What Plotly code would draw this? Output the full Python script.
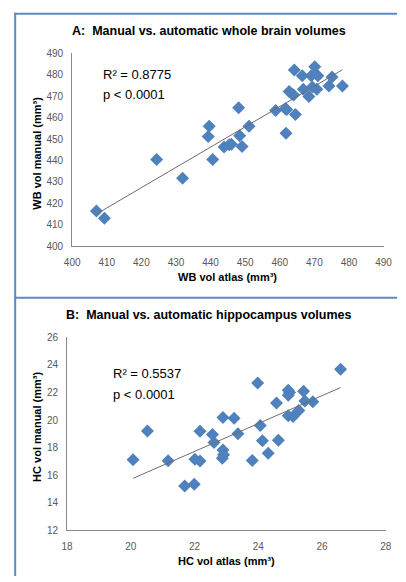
import numpy as np
import plotly.graph_objects as go

W, H = 406, 582

# Panel A: whole brain volumes
wb_atlas = [407.0, 409.3, 424.4, 431.9, 439.3, 439.6, 440.6, 443.9, 445.4, 446.0,
            448.1, 448.4, 449.1, 451.1, 458.8, 461.6, 462.0, 461.8, 462.7, 463.5,
            464.0, 464.2, 464.5, 466.5, 466.8, 468.4, 469.1, 469.4, 470.1, 470.7,
            471.0, 474.2, 475.1, 478.1]
wb_manual = [416.5, 413.1, 440.5, 431.8, 451.2, 456.0, 440.5, 446.3, 447.4, 447.6,
             464.6, 451.6, 446.6, 456.0, 463.3, 464.1, 463.8, 452.7, 472.2, 471.0,
             470.5, 482.2, 461.5, 479.5, 473.2, 469.9, 479.5, 474.3, 483.7, 473.2,
             479.5, 474.8, 479.0, 474.8]

# Panel B: hippocampus volumes
hc_atlas = [26.58, 23.98, 24.94, 24.98, 24.94, 25.42, 24.57, 25.46, 25.71, 24.94,
            25.09, 25.27, 24.06, 22.89, 23.24, 20.52, 22.17, 22.56, 23.36, 20.07,
            21.17, 21.69, 21.99, 22.01, 22.17, 22.61, 22.89, 22.91, 22.87, 23.81,
            24.13, 24.31, 24.63]
hc_manual = [23.68, 22.68, 22.16, 22.00, 21.80, 22.09, 21.24, 21.38, 21.33, 20.31,
             20.26, 20.69, 19.60, 20.19, 20.12, 19.20, 19.18, 18.94, 19.01, 17.12,
             17.04, 15.22, 15.34, 17.16, 17.02, 18.37, 17.83, 17.47, 17.23, 17.07,
             18.49, 17.58, 18.54]

wb_ticks = [400, 410, 420, 430, 440, 450, 460, 470, 480, 490]
hc_ticks = [12, 14, 16, 18, 20, 22, 24, 26, 28]

titles = ["A:  Manual vs. automatic whole brain volumes",
          "B:  Manual vs. automatic hippocampus volumes"]
stats_a = ["R² = 0.8775", "p < 0.0001"]
stats_b = ["R² = 0.5537", "p < 0.0001"]

FONT = "Liberation Sans"
MARK = "#4F81BD"
AXC = "#898989"
TICKC = "#595959"

def px(x):
    return x / W

def py(y):
    return 1 - y / H

fig = go.Figure()

def add_panel(xs, ys, xa, ya):
    fig.add_trace(go.Scatter(x=xs, y=ys, mode="markers", xaxis=xa, yaxis=ya,
                             marker=dict(symbol="diamond", size=10, color=MARK,
                                         line=dict(width=0)),
                             showlegend=False, hoverinfo="skip"))
    m, b = np.polyfit(xs, ys, 1)
    x0, x1 = min(xs), max(xs)
    fig.add_trace(go.Scatter(x=[x0, x1], y=[m * x0 + b, m * x1 + b], mode="lines",
                             xaxis=xa, yaxis=ya, line=dict(color="#6d6d6d", width=1),
                             showlegend=False, hoverinfo="skip"))

add_panel(wb_atlas, wb_manual, "x", "y")
add_panel(hc_atlas, hc_manual, "x2", "y2")

axis_common = dict(showgrid=False, zeroline=False, showline=True, linecolor=AXC,
                   linewidth=1, ticks="", tickfont=dict(family=FONT, size=10, color=TICKC))

fig.update_layout(
    width=W, height=H, margin=dict(l=0, r=0, t=0, b=0),
    paper_bgcolor="white", plot_bgcolor="white",
    xaxis=dict(domain=[px(67), px(392)], range=[400, 490], tickvals=wb_ticks,
               anchor="y", ticklabelstandoff=7, **axis_common),
    yaxis=dict(domain=[py(245.4), py(48.3)], range=[400, 490], tickvals=wb_ticks,
               anchor="x", ticklabelstandoff=6, **axis_common),
    xaxis2=dict(domain=[px(61.7), px(394.3)], range=[18, 28], tickvals=hc_ticks,
                anchor="y2", ticklabelstandoff=7, **axis_common),
    yaxis2=dict(domain=[py(535.3), py(338.3)], range=[12, 26], tickvals=hc_ticks,
                anchor="x2", ticklabelstandoff=6, **axis_common),
)

ann = []
def T(text, x, y, size, bold=False, xref="paper", yref="paper", xanchor="center",
      angle=0, color="black"):
    ann.append(dict(text=f"<b>{text}</b>" if bold else text, x=x, y=y, xref=xref,
                    yref=yref, xanchor=xanchor, yanchor="middle", showarrow=False,
                    textangle=angle, font=dict(family=FONT, size=size, color=color)))

T(titles[0], px(210), py(26), 12.5, bold=True)
T(titles[1], px(210), py(316), 12.5, bold=True)
T("WB vol atlas (mm³)", px(229), py(276.7), 11, bold=True)
T("HC vol atlas (mm³)", px(228), py(566.7), 11, bold=True)
T("WB vol manual (mm³)", px(30), py(150), 11, bold=True, angle=-90)
T("HC vol manual (mm³)", px(30), py(430), 11, bold=True, angle=-90)
T(stats_a[0], 408.3, 480.1, 13, xref="x", yref="y", xanchor="left")
T(stats_a[1], 408.3, 471.0, 13, xref="x", yref="y", xanchor="left")
T(stats_b[0], 19.39, 23.39, 13, xref="x2", yref="y2", xanchor="left")
T(stats_b[1], 19.39, 21.83, 13, xref="x2", yref="y2", xanchor="left")
fig.update_layout(annotations=ann)

BC = "#5A8AC8"
fig.update_layout(shapes=[
    dict(type="line", xref="paper", yref="paper", x0=px(7.5), x1=px(7.5), y0=py(7), y1=0,
         line=dict(color=BC, width=2)),
    dict(type="line", xref="paper", yref="paper", x0=px(6.5), x1=1, y0=py(8), y1=py(8),
         line=dict(color=BC, width=2)),
    dict(type="line", xref="paper", yref="paper", x0=px(6.5), x1=1, y0=py(298), y1=py(298),
         line=dict(color=BC, width=2)),
])

# Remove the default page margin so the 406x582 figure fills the window exactly
fig.write_html("out.html", config={"displayModeBar": False},
               post_script="document.body.style.margin='0';document.body.style.overflow='hidden';")
